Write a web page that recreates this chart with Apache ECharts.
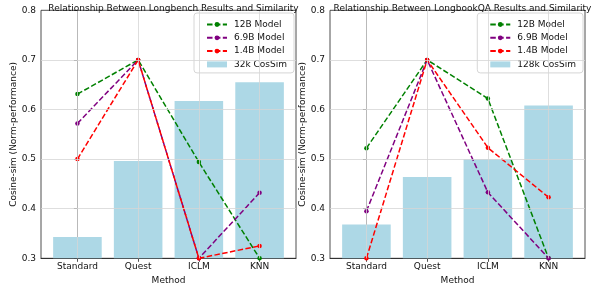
<!DOCTYPE html>
<html lang="en">
<head>
	<meta charset="UTF-8">
	<title>Longbench / LongbookQA similarity</title>
	<script src="https://cdn.jsdelivr.net/npm/echarts@6/dist/echarts.min.js"></script>
	<style>
		body { margin: 0; background: #fff; }
		#chart { width: 592px; height: 283px; }
	</style>
</head>
<body>
	<div id="chart"></div>
	<script type="text/javascript">
		var methods = ['Standard', 'Quest', 'ICLM', 'KNN'];
		var yTicks = [0.3, 0.4, 0.5, 0.6, 0.7, 0.8];

		// Longbench (left)
		var lb12B = [0.631, 0.7, 0.494, 0.3];
		var lb69B = [0.572, 0.7, 0.3, 0.432];
		var lb14B = [0.5, 0.7, 0.3, 0.325];
		var lbSim32k = [0.343, 0.496, 0.617, 0.655];

		// LongbookQA (right)
		var qa12B = [0.522, 0.7, 0.622, 0.3];
		var qa69B = [0.395, 0.7, 0.433, 0.3];
		var qa14B = [0.3, 0.7, 0.523, 0.423];
		var qaSim128k = [0.368, 0.464, 0.5, 0.608];

		var FONT = 'DejaVu Sans';
		var W = 592;
		var plotW = 255, plotH = 248, plotTop = 10.3;
		var lefts = [41, 330];
		var xMin = -0.6, xMax = 3.6;
		var barW = plotW / (xMax - xMin) * 0.8;
		var gridColor = '#d6d6d6';

		function pairs(arr) {
			var out = [];
			for (var i = 0; i < arr.length; i++) {
				out.push([i, arr[i]]);
			}
			return out;
		}

		function lineSeries(name, color, values, idx) {
			return {
				name: name,
				type: 'line',
				xAxisIndex: idx,
				yAxisIndex: idx,
				data: pairs(values),
				symbol: 'circle',
				symbolSize: 4.5,
				clip: false,
				z: 3,
				itemStyle: { color: color },
				lineStyle: { color: color, width: 1.5, type: [5.5, 2.4] },
				animation: false
			};
		}

		function barSeries(name, values, idx) {
			var gl = [];
			for (var i = 0; i < methods.length; i++) gl.push({ xAxis: i });
			for (var j = 1; j < yTicks.length - 1; j++) gl.push({ yAxis: yTicks[j] });
			return {
				name: name,
				type: 'bar',
				xAxisIndex: idx,
				yAxisIndex: idx,
				data: pairs(values),
				barWidth: barW,
				itemStyle: { color: '#add8e6' },
				z: 2,
				animation: false,
				markLine: {
					silent: true,
					symbol: ['none', 'none'],
					label: { show: false },
					lineStyle: { type: 'solid', color: gridColor, width: 0.8 },
					emphasis: { disabled: true },
					animation: false,
					data: gl
				}
			};
		}

		var grids = [], xAxes = [], yAxes = [], titles = [], legends = [];
		var titleTexts = ['Relationship Between Longbench Results and Similarity',
			'Relationship Between LongbookQA Results and Similarity'];
		var barNames = ['32k CosSim', '128k CosSim'];

		for (var k = 0; k < 2; k++) {
			grids.push({
				left: lefts[k], top: plotTop, width: plotW, height: plotH,
				outerBoundsMode: 'none', containLabel: false,
				show: true, borderColor: '#222', borderWidth: 0.8, backgroundColor: 'transparent'
			});
			xAxes.push({
				type: 'value', gridIndex: k, min: xMin, max: xMax,
				name: 'Method', nameLocation: 'middle', nameGap: 13,
				nameTextStyle: { fontFamily: FONT, fontSize: 9, color: '#111' },
				axisLine: { show: true, lineStyle: { color: '#222', width: 0.8 } },
				axisTick: { show: true, length: 3.5, customValues: [0, 1, 2, 3], lineStyle: { color: '#222', width: 0.8 } },
				axisLabel: {
					customValues: [0, 1, 2, 3], margin: 4,
					fontFamily: FONT, fontSize: 9, color: '#111',
					formatter: function (v) { return methods[Math.round(v)]; }
				},
				splitLine: { show: false }
			});
			yAxes.push({
				type: 'value', gridIndex: k, min: 0.3, max: 0.8, interval: 0.1,
				name: 'Cosine-sim (Norm-performance)', nameLocation: 'middle', nameGap: 20,
				nameTextStyle: { fontFamily: FONT, fontSize: 9, color: '#111' },
				axisLine: { show: true, lineStyle: { color: '#222', width: 0.8 } },
				axisTick: { show: true, length: 3.5, lineStyle: { color: '#222', width: 0.8 } },
				axisLabel: {
					margin: 5, fontFamily: FONT, fontSize: 9, color: '#111',
					formatter: function (v) { return v.toFixed(1); }
				},
				splitLine: { show: false }
			});
			titles.push({
				text: titleTexts[k],
				left: lefts[k] + plotW / 2, top: -1, textAlign: 'center',
				textStyle: { fontFamily: FONT, fontSize: 9, fontWeight: 'normal', color: '#111' }
			});
			legends.push({
				orient: 'vertical',
				right: W - (lefts[k] + plotW) + 2, top: 13,
				padding: [7, 7, 4, 12],
				itemWidth: 20, itemHeight: 6, itemGap: 4.3,
				backgroundColor: 'rgba(255,255,255,0.85)',
				borderColor: '#cccccc', borderWidth: 0.8, borderRadius: 3,
				textStyle: { fontFamily: FONT, fontSize: 9, color: '#111', lineHeight: 9, padding: [0, 0, 0, 2] },
				data: ['12B Model', '6.9B Model', '1.4B Model', { name: barNames[k], icon: 'rect' }]
			});
		}

		var series = [
			barSeries(barNames[0], lbSim32k, 0),
			lineSeries('12B Model', '#008000', lb12B, 0),
			lineSeries('6.9B Model', '#800080', lb69B, 0),
			lineSeries('1.4B Model', '#ff0000', lb14B, 0),
			barSeries(barNames[1], qaSim128k, 1),
			lineSeries('12B Model', '#008000', qa12B, 1),
			lineSeries('6.9B Model', '#800080', qa69B, 1),
			lineSeries('1.4B Model', '#ff0000', qa14B, 1)
		];

		var myChart = echarts.init(document.getElementById('chart'));
		myChart.setOption({
			animation: false,
			title: titles,
			legend: legends,
			grid: grids,
			xAxis: xAxes,
			yAxis: yAxes,
			series: series
		});
	</script>
</body>
</html>
